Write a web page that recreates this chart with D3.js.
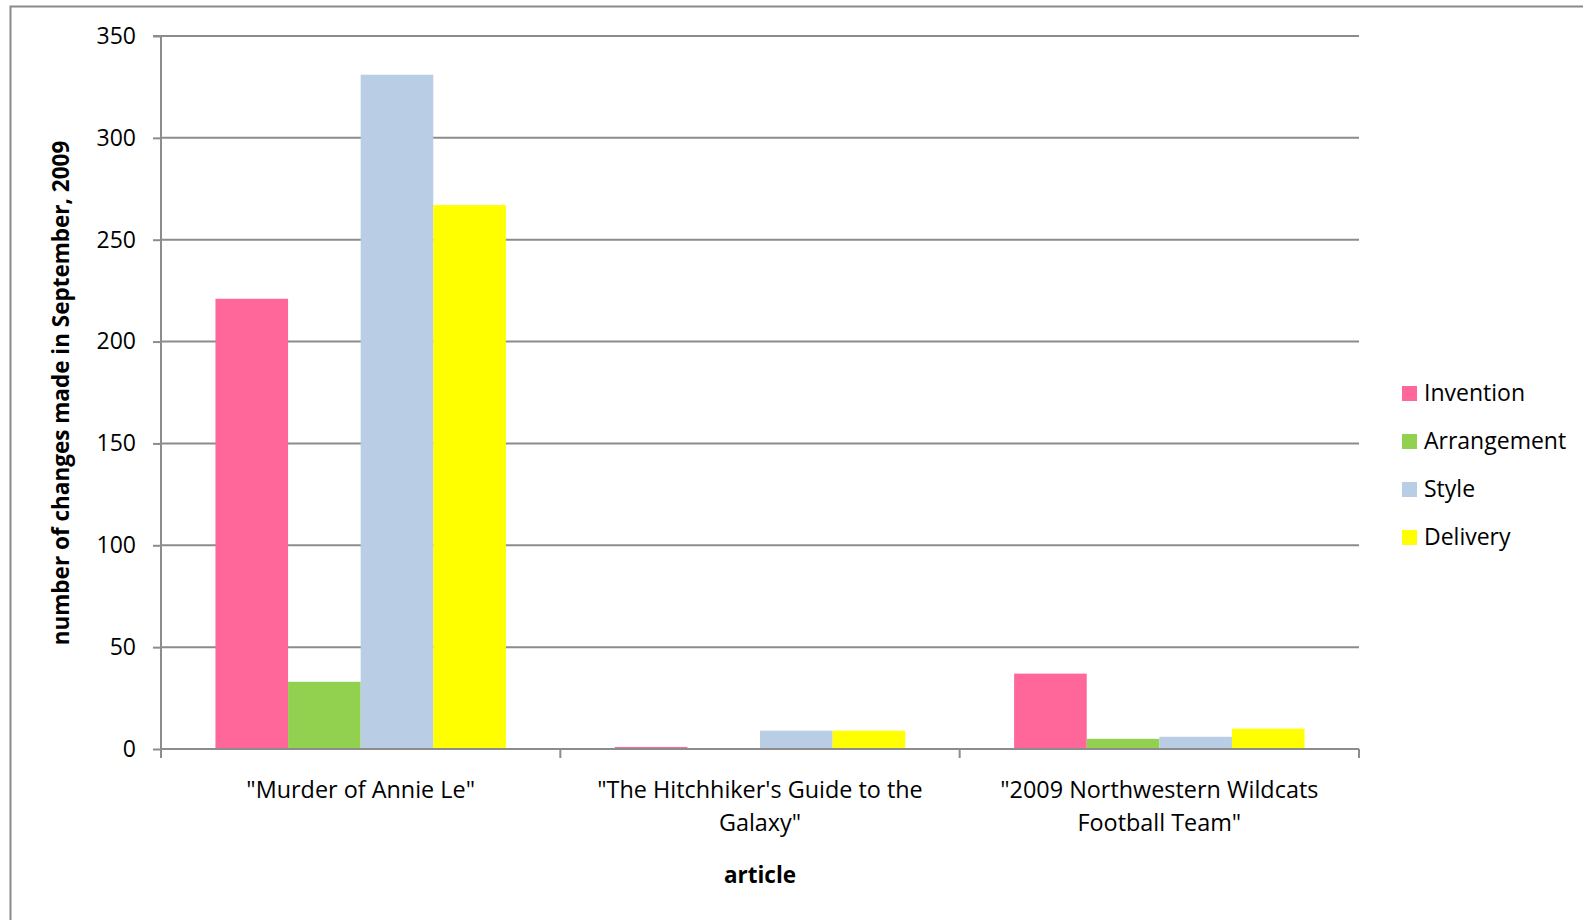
<!DOCTYPE html>
<html><head><meta charset="utf-8">
<script src="https://cdn.jsdelivr.net/npm/d3@7"></script>
<style>html,body{margin:0;padding:0;background:#fff;}svg{display:block;}</style>
</head><body>
<svg id="c" width="1583" height="920"></svg>
<script>
const categories = ['"Murder of Annie Le"', '"The Hitchhiker\'s Guide to the Galaxy"', '"2009 Northwestern Wildcats Football Team"'];
const categoryLines = [['"Murder of Annie Le"'], ['"The Hitchhiker\'s Guide to the', 'Galaxy"'], ['"2009 Northwestern Wildcats', 'Football Team"']];
const seriesNames = ["Invention", "Arrangement", "Style", "Delivery"];
const seriesColors = ["#FF6699", "#92D050", "#B9CDE5", "#FFFF00"];
const invention = [221, 1, 37];
const arrangement = [33, 0, 5];
const style = [331, 9, 6];
const delivery = [267, 9, 10];
const yTicks = [0, 50, 100, 150, 200, 250, 300, 350];
const yTitle = "number of changes made in September, 2009";
const xTitle = "article";

const seriesValues = [invention, arrangement, style, delivery];
const font = "'Open Sans', Lato, sans-serif";
const fs = 22.5;
const svg = d3.select("#c");

// outer border
svg.append("path").attr("d", "M10.5,920 L10.5,6.5 L1583,6.5").attr("fill", "none").attr("stroke", "#8a8a8a").attr("stroke-width", 2);

const L = 161, R = 1359, T = 36, B = 749;
const y = d3.scaleLinear().domain([0, 350]).range([B, T]);
const x0 = d3.scaleBand().domain(categories).range([L, R]).padding(0);
const bw = x0.bandwidth();
const gap = bw * 0.75 / 5.5;
const x1 = d3.scaleBand().domain(seriesNames).range([gap, bw - gap]).padding(0);

// gridlines
svg.append("g").selectAll("line").data(yTicks.filter(d => d > 0)).join("line")
  .attr("x1", L).attr("x2", R).attr("y1", d => y(d)).attr("y2", d => y(d))
  .attr("stroke", "#8c8c8c").attr("stroke-width", 2);

// bars
categories.forEach((c, ci) => {
  seriesNames.forEach((s, si) => {
    const v = seriesValues[si][ci];
    if (v <= 0) return;
    svg.append("rect")
      .attr("x", x0(c) + x1(s)).attr("width", x1.bandwidth())
      .attr("y", y(v)).attr("height", B - y(v))
      .attr("fill", seriesColors[si]);
  });
});

// y axis
const yAxis = d3.axisLeft(y).tickValues(yTicks).tickSize(8).tickPadding(17).tickFormat(d3.format("d"));
const ga = svg.append("g").attr("transform", `translate(${L},0)`).call(yAxis);
ga.select(".domain").attr("stroke", "#8c8c8c").attr("stroke-width", 2).attr("d", `M-8,${T}H0V${B}`);
ga.selectAll(".tick line").attr("stroke", "#8c8c8c").attr("stroke-width", 2);
ga.selectAll(".tick text").attr("font-family", font).attr("font-size", 23).attr("fill", "#000");

// x axis
const xAxis = d3.axisBottom(x0).tickSize(0).tickFormat("");
const gx = svg.append("g").attr("transform", `translate(0,${B})`).call(xAxis);
gx.select(".domain").attr("stroke", "#8c8c8c").attr("stroke-width", 2).attr("d", `M${L},0H${R}`);
const bounds = [L].concat(categories.map(c => x0(c) + bw));
gx.append("g").selectAll("line").data(bounds).join("line")
  .attr("x1", d => d).attr("x2", d => d).attr("y1", 0).attr("y2", 9)
  .attr("stroke", "#8c8c8c").attr("stroke-width", 2);
gx.selectAll(".tick").remove();

// category labels
categories.forEach((c, ci) => {
  const t = svg.append("text").attr("x", x0(c) + bw / 2).attr("y", 798)
    .attr("text-anchor", "middle").attr("font-family", font).attr("font-size", 23.4).attr("fill", "#000");
  categoryLines[ci].forEach((ln, li) => {
    t.append("tspan").attr("x", x0(c) + bw / 2).attr("dy", li === 0 ? 0 : 33).text(ln);
  });
});

// axis titles
svg.append("text").attr("x", 760).attr("y", 883).attr("text-anchor", "middle")
  .attr("font-family", font).attr("font-size", fs).attr("font-weight", "bold").attr("fill", "#000").text(xTitle);
svg.append("text").attr("transform", "translate(69,393) rotate(-90)").attr("text-anchor", "middle")
  .attr("font-family", font).attr("font-size", fs).attr("font-weight", "bold").attr("fill", "#000").text(yTitle);

// legend
const lg = svg.append("g").selectAll("g").data(seriesNames).join("g")
  .attr("transform", (d, i) => `translate(1402,${393 + i * 48})`);
lg.append("rect").attr("x", 0).attr("y", -7).attr("width", 15).attr("height", 15).attr("fill", (d, i) => seriesColors[i]);
lg.append("text").attr("x", 22).attr("y", 0).attr("dy", "0.35em")
  .attr("font-family", font).attr("font-size", 23).attr("fill", "#000").text(d => d);
</script>
</body></html>
